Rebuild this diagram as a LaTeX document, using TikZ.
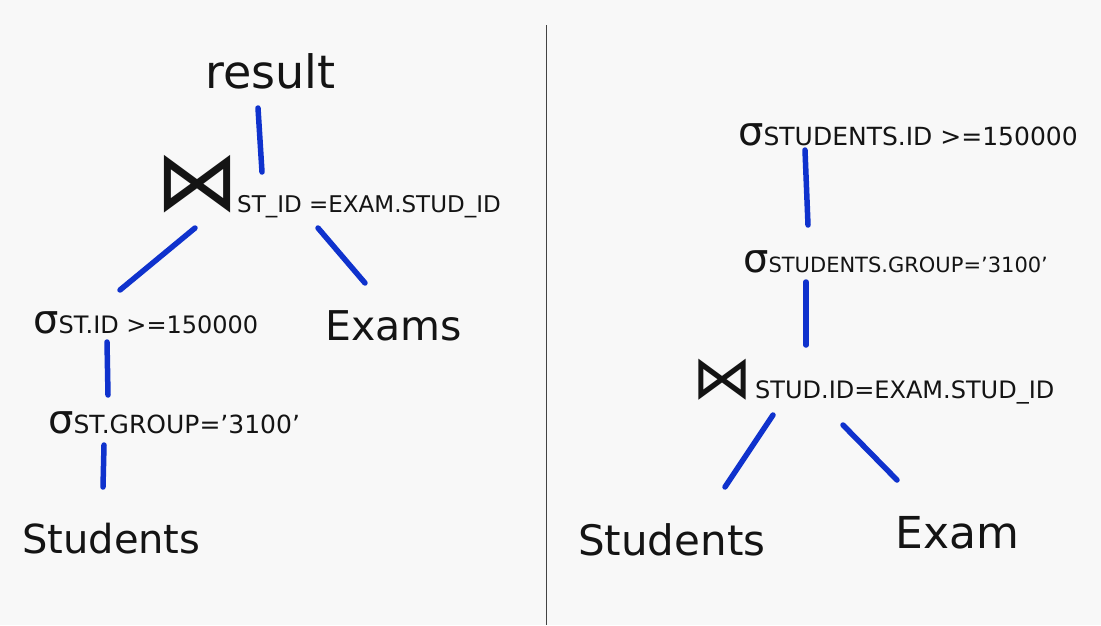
\documentclass[tikz,border=0pt]{standalone}
\usepackage{fontspec}
\setmainfont{DejaVu Sans}
\definecolor{bg}{RGB}{248,248,248}
\definecolor{pen}{RGB}{15,50,205}
\definecolor{ink}{RGB}{20,20,20}
\tikzset{
  lbl/.style={anchor=base west, inner sep=0pt, text=ink},
  edge/.style={draw=pen, line width=5.5pt, line cap=round},
  divider/.style={draw=ink!80, line width=1pt}
}
\newcommand{\fs}[1]{\fontsize{#1}{#1}\selectfont}
\begin{document}
\begin{tikzpicture}[x=1pt,y=-1pt]
\fill[bg] (0,0) rectangle (1101,625);
\useasboundingbox (0,0) rectangle (1101,625);
% divider
\coordinate (dtop) at (546,25);
\coordinate (dbot) at (546,625);
\draw[divider] (dtop) -- (dbot);
% left tree
\node[lbl] (result) at (205,88) {\fs{46}result};
\node[lbl] (J1) at (155,210) {\fs{84}⋈};
\node[lbl] (J1s) at (237,212) {\fs{23}ST\_ID =EXAM.STUD\_ID};
\node[lbl] (L1) at (33,333) {\fs{40}σ\fs{24}ST.ID >=150000};
\node[lbl] (L2) at (48,433) {\fs{40}σ\fs{25}ST.GROUP='3100'};
\node[lbl] (ExL) at (325,340) {\fs{41}Exams};
\node[lbl] (StL) at (22,553) {\fs{40}Students};
% right tree
\node[lbl] (R1) at (738,145) {\fs{40}σ\fs{25}STUDENTS.ID >=150000};
\node[lbl] (R2) at (743,272) {\fs{40}σ\fs{21}STUDENTS.GROUP='3100'};
\node[lbl] (J2) at (692,398) {\fs{60}⋈};
\node[lbl] (J2s) at (755,398) {\fs{24}STUD.ID=EXAM.STUD\_ID};
\node[lbl] (StR) at (578,555) {\fs{42}Students};
\node[lbl] (ExR) at (895,548) {\fs{44}Exam};
% connectors
\draw[edge] ([shift={(53,20)}]result.base west) -- ([shift={(107,-38)}]J1.base west);
\draw[edge] ([shift={(40,18)}]J1.base west) -- ([shift={(87,-43)}]L1.base west);
\draw[edge] ([shift={(163,18)}]J1.base west) -- ([shift={(40,-57)}]ExL.base west);
\draw[edge] ([shift={(74,9)}]L1.base west) -- ([shift={(60,-38)}]L2.base west);
\draw[edge] ([shift={(56,12)}]L2.base west) -- ([shift={(81,-66)}]StL.base west);
\draw[edge] ([shift={(67,5)}]R1.base west) -- ([shift={(65,-47)}]R2.base west);
\draw[edge] ([shift={(63,10)}]R2.base west) -- ([shift={(114,-53)}]J2.base west);
\draw[edge] ([shift={(81,17)}]J2.base west) -- ([shift={(147,-68)}]StR.base west);
\draw[edge] ([shift={(151,27)}]J2.base west) -- ([shift={(2,-68)}]ExR.base west);
\end{tikzpicture}
\end{document}
